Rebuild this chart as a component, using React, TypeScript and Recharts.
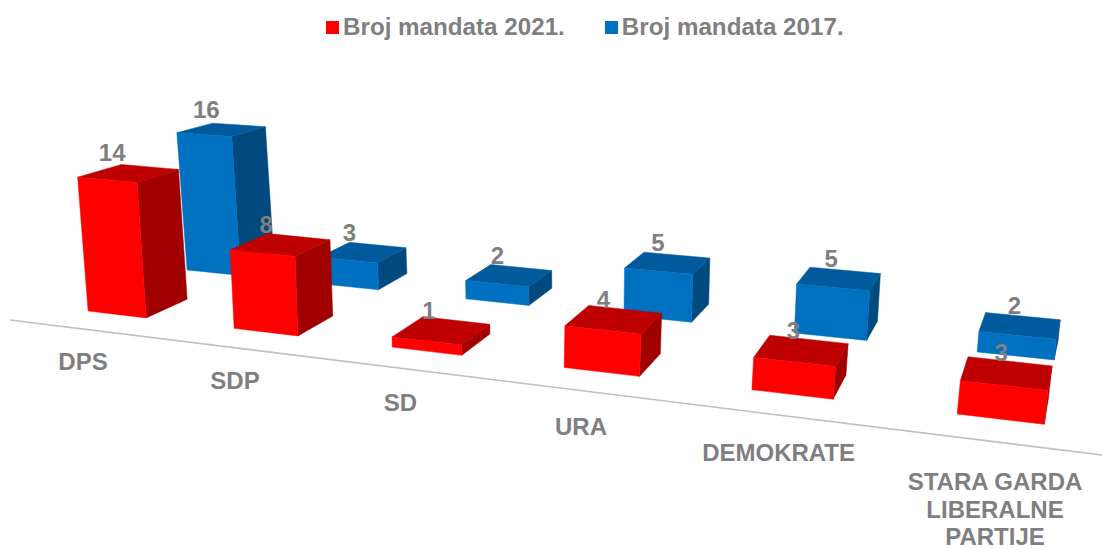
import React from "react";
import { BarChart, Bar, XAxis, YAxis, Legend, ReferenceLine } from "recharts";

const categories = ["DPS", "SDP", "SD", "URA", "DEMOKRATE", "STARA GARDA\nLIBERALNE\nPARTIJE"];
const mandates2021 = [14, 8, 1, 4, 3, 3];
const mandates2017 = [16, 3, 2, 5, 5, 2];
const seriesNames = { red: "Broj mandata 2021.", blue: "Broj mandata 2017." };

const rows = categories.map((name, i) => ({
  name,
  red: mandates2021[i],
  blue: mandates2017[i],
}));

const CHART_W = 1102;
const CHART_H = 549;
const BAND = CHART_W / categories.length;
const FLAT_BAR = 60;
const DOMAIN_MAX = 50;
const FONT = "'Liberation Sans', Arial, sans-serif";
const GRAY = "#7F7F7F";

// Perspective of the original 3D chart: maps flat scale output onto the tilted floor.
const RED = {
  front: "#FF0000", side: "#A00000", top: "#BE0000",
  left: (t: number) => 88 + 140.6 * t + 5.1 * t * t + 0.308 * t * t * t,
  width: (t: number) => 58 + 5.8 * t,
  floor: (X: number) => 311 + 0.1185 * (X - 88),
  unit: (X: number) => 9.4 + 0.0018 * X,
  dx: (X: number) => 47 - 0.041 * X,
  dy: (X: number) => -(17.5 + 0.008 * X),
  leanCentre: 480,
  slot: 0,
};
const BLUE = {
  front: "#0070C0", side: "#004A80", top: "#005A9B",
  left: (t: number) => 187 + 127 * t + 6.2 * t * t,
  width: (t: number) => 53.5 + 4.7 * t,
  floor: (X: number) => 270 + 0.1038 * (X - 188),
  unit: (X: number) => 8.2 + 0.002 * X,
  dx: (X: number) => 42 - 0.036 * X,
  dy: (X: number) => -(14 + 0.006 * X),
  leanCentre: 560,
  slot: 1,
};

const pts = (list: number[][]) => list.map((p) => p.join(",")).join(" ");

function Box(props: any) {
  const { x, width, height, background, value, cfg } = props;
  const ppu = background.height / DOMAIN_MAX;
  const t = (x + cfg.slot * width - BAND / 2) / BAND;
  const units = height / ppu;
  const XL = cfg.left(t);
  const XR = XL + cfg.width(t) * (width / FLAT_BAR);

  const corner = (X0: number) => {
    const Y0 = cfg.floor(X0);
    const h = units * cfg.unit(X0);
    const lean = (X0 - cfg.leanCentre) * 0.0002 * h;
    return { bottom: [X0, Y0], top: [X0 + lean, Y0 - h], h };
  };
  const back = (p: number[], h: number) => [p[0] + cfg.dx(p[0]), p[1] + cfg.dy(p[0]) + 0.04 * h];

  const L = corner(XL);
  const R = corner(XR);
  const backTL = back(L.top, L.h);
  const backTR = back(R.top, R.h);
  const backBR = back(R.bottom, 0);

  const cx = (L.top[0] + R.top[0] + backTL[0] + backTR[0]) / 4;
  const cy = (L.top[1] + R.top[1] + backTL[1] + backTR[1]) / 4;

  return (
    <g>
      <polygon points={pts([R.top, backTR, backBR, R.bottom])} fill={cfg.side} stroke={cfg.side} strokeWidth={0.5} />
      <polygon points={pts([L.top, backTL, backTR, R.top])} fill={cfg.top} stroke={cfg.top} strokeWidth={0.5} />
      <polygon points={pts([L.top, R.top, R.bottom, L.bottom])} fill={cfg.front} stroke={cfg.front} strokeWidth={0.5} />
      <text
        x={cx - 18 + 0.012 * cx}
        y={cy - 20 + 8}
        textAnchor="middle"
        fontFamily={FONT}
        fontWeight="bold"
        fontSize={24}
        fill={GRAY}
      >
        {value}
      </text>
    </g>
  );
}

function CategoryTick(props: any) {
  const { x, payload } = props;
  const t = (x - BAND / 2) / BAND;
  const X = 83 + 145.9 * t + 5.8 * t * t + 0.3 * t * t * t;
  const Y = 362 + 18 * t + 1.2 * t * t;
  const lines = String(payload.value).split("\n");
  return (
    <text textAnchor="middle" fontFamily={FONT} fontWeight="bold" fontSize={24} fill={GRAY}>
      {lines.map((line, i) => (
        <tspan key={line} x={X} y={Y + 8 + i * 27.5}>
          {line}
        </tspan>
      ))}
    </text>
  );
}

function FloorLine(props: any) {
  const { x1, x2 } = props;
  const toX = (x: number) => 10 + (x / CHART_W) * 1092;
  const toY = (x: number) => 320 + 0.1236 * (toX(x) - 10);
  return <line x1={toX(x1)} y1={toY(x1)} x2={toX(x2)} y2={toY(x2)} stroke="#BFBFBF" strokeWidth={1.6} />;
}

function LegendBlock() {
  const items = [
    { label: seriesNames.red, color: RED.front },
    { label: seriesNames.blue, color: BLUE.front },
  ];
  return (
    <div style={{ display: "flex", paddingLeft: 326, fontFamily: FONT, fontWeight: "bold", fontSize: 24.2, color: GRAY, lineHeight: "28px" }}>
      {items.map((it) => (
        <div key={it.label} style={{ display: "flex", alignItems: "center", marginRight: 40 }}>
          <span style={{ width: 13, height: 13, background: it.color, marginRight: 4, display: "inline-block" }} />
          <span>{it.label}</span>
        </div>
      ))}
    </div>
  );
}

export default function App() {
  return (
    <div style={{ position: "absolute", left: 0, top: 0, width: CHART_W, height: CHART_H, background: "#fff", overflow: "hidden" }}>
      <BarChart
        width={CHART_W}
        height={CHART_H}
        data={rows}
        margin={{ top: 0, right: 0, bottom: 0, left: 0 }}
        barSize={FLAT_BAR}
        barGap={0}
      >
        <YAxis hide domain={[0, DOMAIN_MAX]} />
        <XAxis dataKey="name" height={20} axisLine={false} tickLine={false} interval={0} tick={<CategoryTick />} />
        <Legend verticalAlign="top" content={<LegendBlock />} wrapperStyle={{ top: 13, left: 0, width: CHART_W }} />
        <ReferenceLine y={0} shape={<FloorLine />} />
        <Bar dataKey="blue" name={seriesNames.blue} fill={BLUE.front} isAnimationActive={false} shape={(p: any) => <Box {...p} cfg={BLUE} />} />
        <Bar dataKey="red" name={seriesNames.red} fill={RED.front} isAnimationActive={false} shape={(p: any) => <Box {...p} cfg={RED} />} />
      </BarChart>
    </div>
  );
}
